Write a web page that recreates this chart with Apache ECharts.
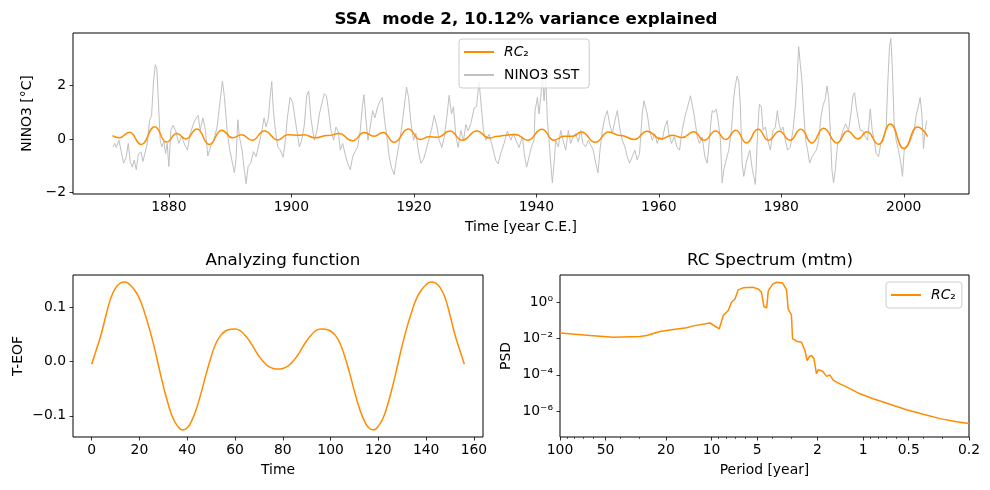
<!DOCTYPE html>
<html>
<head>
<meta charset="utf-8">
<script src="https://cdn.jsdelivr.net/npm/echarts@6/dist/echarts.min.js"></script>
<style>
  html, body { margin: 0; padding: 0; background: #fff; }
  #chart { width: 990px; height: 490px; }
</style>
</head>
<body>
<div id="chart"></div>
<script>
// NINO3 SST anomaly (year, degC)
const sstYears = [
  1870.87,1871.15,1871.42,1871.85,1872.23,1872.61,1873.05,1873.37,1873.70,1874.03,
  1874.35,1874.68,1875.00,1875.44,1875.77,1876.09,1876.47,1876.85,1877.18,1877.50,
  1877.78,1878.05,1878.32,1878.59,1878.86,1879.19,1879.46,1879.73,1880.00,1880.33,
  1880.66,1881.09,1881.63,1882.07,1882.61,1883.05,1883.48,1884.03,1884.46,1884.79,
  1885.11,1885.55,1885.98,1886.36,1886.80,1887.34,1887.88,1888.37,1888.75,1889.08,
  1889.52,1889.90,1890.28,1890.71,1890.98,1891.26,1891.53,1891.96,1892.29,1892.61,
  1892.94,1893.37,1893.81,1894.24,1894.68,1895.11,1895.55,1895.87,1896.26,1896.53,
  1896.80,1897.07,1897.40,1897.78,1898.21,1898.65,1898.97,1899.35,1899.79,1900.22,
  1900.77,1901.31,1901.69,1902.12,1902.50,1902.83,1903.21,1903.76,
  1904.19,1904.58,1904.96,1905.39,1905.72,1906.04,1906.48,1906.91,1907.29,1907.67,
  1908.00,1908.38,1908.81,1909.19,1909.63,1910.01,1910.39,1910.83,1911.26,1911.59,
  1911.86,1912.18,1912.51,1912.89,1913.27,1913.65,1914.03,1914.47,1914.85,1915.23,
  1915.61,1915.99,1916.37,1916.80,1917.13,1917.51,1917.95,1918.43,1918.81,1919.14,
  1919.52,1919.96,1920.34,1920.72,1921.15,1921.59,1922.02,1922.46,1922.89,1923.33,
  1923.71,1924.14,1924.58,1924.96,1925.39,1925.77,1926.15,1926.48,1926.86,1927.24,
  1927.67,1928.11,1928.49,1928.87,1929.30,1929.85,1930.23,1930.66,1930.93,1931.37,
  1931.75,1932.29,1932.84,1933.38,1933.76,1934.20,1934.74,1935.28,1935.83,1936.26,
  1936.70,1937.18,1937.73,1938.11,1938.43,1938.82,1939.20,1939.63,
  1939.80,1940.18,1940.45,1940.72,1941.00,1941.27,1941.54,1941.81,1942.08,1942.35,
  1942.62,1942.90,1943.17,1943.60,1943.98,1944.36,1944.80,1945.23,1945.61,1945.99,
  1946.43,1946.86,1947.24,1947.62,1948.06,1948.49,1948.87,1949.31,1949.69,1950.07,
  1950.40,1950.78,1951.21,1951.59,1951.97,1952.41,1952.84,1953.22,1953.60,1954.04,
  1954.47,1954.85,1955.23,1955.67,1956.10,1956.48,1956.86,1957.30,1957.57,1957.84,
  1958.11,1958.49,1958.93,1959.36,1959.74,1960.12,1960.56,1960.99,1961.37,1961.64,
  1962.08,1962.52,1962.95,1963.39,1963.82,1964.26,1964.69,1965.18,1965.45,1965.83,
  1966.27,1966.65,1967.08,1967.52,1967.90,1968.17,1968.44,1968.71,1969.04,1969.36,
  1969.69,1970.07,1970.34,1970.61,1971.00,1971.43,1971.86,1972.24,1972.52,1972.79,
  1973.06,1973.33,1973.60,1973.88,1974.26,
  1974.85,1975.28,1975.77,1976.15,1976.42,1976.75,1977.02,1977.40,1977.78,1978.22,
  1978.65,1979.03,1979.36,1979.63,1979.96,1980.28,1980.66,1981.04,1981.48,1981.91,
  1982.29,1982.57,1982.84,1983.11,1983.38,1983.65,1983.98,1984.30,1984.63,1985.01,
  1985.39,1985.72,1986.10,1986.48,1986.80,1987.18,1987.46,1987.73,1988.00,1988.27,
  1988.54,1988.82,1989.20,1989.63,1990.07,1990.50,1990.99,1991.37,1991.70,1991.97,
  1992.24,1992.51,1992.89,1993.27,1993.71,1994.09,1994.52,1994.85,1995.17,1995.50,
  1995.88,1996.26,1996.70,1997.13,1997.40,1997.67,1997.89,1998.11,1998.43,1998.76,
  1999.14,1999.52,1999.79,2000.07,2000.50,2000.94,2001.32,2001.70,2002.02,2002.35,
  2002.67,2002.95,2003.22,2003.49,2003.76
];
const sstValues = [
  -0.30,-0.17,-0.32,-0.05,-0.48,-0.91,-0.67,-0.17,-0.85,-1.06,
  -0.79,-1.16,-0.60,-0.48,-0.85,-0.54,-0.17,0.69,0.88,2.17,
  2.79,2.61,1.31,-0.05,-0.30,-0.11,-0.54,-0.17,-1.04,0.32,
  0.51,0.32,-0.17,0.10,-0.23,-0.42,0.20,0.57,0.79,0.88,
  0.32,0.79,0.32,-0.64,-0.30,-0.05,0.45,1.43,2.17,1.56,
  0.32,-0.36,-0.79,-1.28,-0.73,0.72,0.08,-0.42,-1.10,-1.68,
  -1.04,-0.91,-0.48,-0.67,-0.23,0.20,0.79,0.45,0.79,1.56,
  2.15,1.06,0.32,-0.30,-0.42,-0.69,-0.17,0.79,1.56,1.37,
  0.51,-0.30,-0.05,0.51,1.62,1.80,0.75,-0.05,
  0.30,0.94,1.31,1.70,1.62,1.12,0.32,-0.05,0.45,0.26,
  -0.42,-0.17,-0.60,-0.91,-1.16,-0.67,-0.48,-0.30,0.32,1.19,
  1.66,0.75,-0.05,0.45,1.06,0.79,1.16,1.41,1.56,0.69,
  0.08,-0.67,-1.10,-1.34,-0.81,-0.30,0.32,1.19,1.95,1.56,
  0.63,-0.05,0.22,-0.42,-0.91,-0.76,-0.42,-0.02,0.35,0.88,
  0.54,-0.05,-0.32,0.05,0.82,1.64,0.94,1.21,0.10,-0.32,
  0.32,-0.07,0.54,0.30,0.57,1.16,1.21,2.15,1.43,0.32,
  -0.05,0.17,-0.30,-0.81,-0.94,-0.54,-0.17,0.30,-0.05,0.20,
  -0.07,-0.32,0.08,-0.69,-1.06,-0.67,-0.30,-0.05,
  1.06,1.56,0.94,1.56,2.45,1.43,2.30,0.69,-0.05,-0.91,
  -1.65,-0.91,-0.05,-0.30,0.32,-0.05,-0.42,0.32,-0.17,0.08,
  0.20,-0.11,0.32,-0.17,-0.30,-0.05,-0.23,-0.42,-0.91,-1.28,
  -0.42,0.32,0.82,1.06,0.57,0.20,0.69,1.06,0.45,-0.05,
  -0.30,-0.67,-0.91,-0.67,-0.42,-0.79,-0.54,0.94,1.43,1.50,
  0.94,0.32,-0.05,0.20,-0.17,0.08,-0.05,0.45,0.69,0.20,
  -0.17,0.08,-0.30,-0.42,0.32,0.82,1.19,1.62,1.56,0.82,
  0.08,-0.17,0.08,-0.67,-0.91,-0.30,0.45,1.06,1.00,1.12,
  0.69,-0.05,-1.65,-1.16,-0.79,-0.42,0.32,1.56,2.05,2.36,
  2.17,1.19,-0.91,-1.41,-0.91,
  -0.42,-1.16,-1.71,0.32,1.31,1.19,0.32,0.45,-0.05,-0.42,
  0.32,0.45,1.06,0.57,0.32,0.45,-0.05,-0.42,-0.30,0.32,
  1.19,2.17,3.47,2.79,2.17,1.06,-0.05,-0.42,-0.91,-0.67,
  -0.54,-0.42,-0.05,0.82,1.25,1.50,1.99,1.56,0.32,-1.16,
  -1.65,-1.16,-0.17,-0.05,0.32,0.57,0.32,0.94,1.62,1.74,
  1.19,0.82,0.32,0.32,0.08,-0.05,1.12,0.32,-0.05,-0.54,
  -0.67,-0.17,-0.05,0.45,2.17,3.47,3.78,2.79,0.57,-0.05,
  -0.42,-0.91,-1.41,-0.42,-0.30,-0.17,0.08,0.32,0.88,1.19,
  1.56,0.94,-0.36,0.32,0.69
];

// reconstructed component RC2, turning points
const rcYears = [
  1870.8,1871.9,1873.6,1875.5,1877.7,1879.6,1881.3,1882.8,1884.6,1886.6,
  1888.6,1890.4,1891.9,1893.6,1895.6,1897.8,1899.4,1901.3,1902.1,1903.8,
  1905.9,1907.8,1910.0,1911.9,1913.5,1915.0,1916.8,1919.1,1921.0,1922.5,
  1923.9,1925.9,1927.9,1930.3,1932.3,1933.7,1935.0,1936.6,1938.6,1940.9,
  1942.9,1944.5,1945.9,1947.4,1949.6,1951.8,1953.8,1956.0,1958.1,1960.3,
  1962.2,1963.8,1965.7,1967.4,1969.3,1970.9,1972.6,1974.3,1976.2,1977.9,
  1979.7,1981.4,1983.2,1985.0,1986.9,1989.1,1990.8,1992.5,1994.0,1995.9,
  1997.8,2000.0,2002.2,2003.9
];
const rcValues = [
  0.12,0.04,0.25,-0.21,0.46,-0.12,0.20,0.00,0.37,-0.21,
  0.33,0.04,0.16,-0.05,0.30,-0.04,0.16,0.14,0.16,0.04,
  0.125,0.20,-0.07,0.24,0.10,0.24,-0.13,0.37,-0.02,0.08,
  0.06,0.30,-0.05,0.30,0.03,0.10,0.14,0.17,-0.05,0.36,
  -0.05,0.10,0.10,0.26,-0.13,0.26,0.125,-0.02,0.29,0.00,
  0.14,0.05,0.27,-0.05,0.30,-0.02,0.33,-0.15,0.36,-0.05,
  0.29,-0.05,0.36,-0.15,0.40,-0.15,0.30,0.00,0.27,-0.20,
  0.56,-0.36,0.45,0.09
];

// T-EOF (analyzing function)
const teofTime = [0,2,4,6,8,10,12,14,16,18,20,22,24,26,28,30,32,34,36,38,
  40,42,44,46,48,50,52,54,56,58,60,62,64,66,68,70,72,74,76,78,
  80,82,84,86,88,90,92,94,96,98,100,102,104,106,108,110,112,114,116,118,
  120,122,124,126,128,130,132,134,136,138,140,142,144,146,148,150,152,154,156];
const teofValues = [
  -0.005,0.022,0.05,0.085,0.116,0.135,0.144,0.146,0.141,0.131,
  0.116,0.092,0.063,0.030,-0.008,-0.045,-0.078,-0.104,-0.119,-0.126,
  -0.122,-0.108,-0.085,-0.055,-0.022,0.008,0.033,0.048,0.056,0.059,
  0.0596,0.057,0.049,0.038,0.024,0.010,-0.001,-0.009,-0.013,-0.014,
  -0.013,-0.009,-0.001,0.010,0.024,0.038,0.049,0.057,0.0596,0.059,
  0.056,0.048,0.033,0.008,-0.022,-0.055,-0.085,-0.108,-0.122,-0.126,
  -0.119,-0.104,-0.078,-0.045,-0.008,0.030,0.063,0.092,0.116,0.131,
  0.141,0.146,0.144,0.135,0.116,0.085,0.05,0.022,-0.005];

// MTM spectrum of RC2
const specPeriod = [100,63.3,44.5,29.7,26.8,21.9,17.9,14.6,13.2,10.25,
  8.9,8.37,7.76,7.38,7.0,6.67,6.18,5.31,4.92,4.68,
  4.51,4.33,4.22,3.95,3.72,3.40,3.20,3.12,3.04,2.97,
  2.92,2.75,2.55,2.42,2.34,2.26,2.19,2.11,2.03,1.98,
  1.85,1.74,1.66,1.57,1.42,1.22,1.05,0.857,0.665,0.517,
  0.401,0.311,0.242,0.20];
const specPsd = [2.0e-2,1.48e-2,1.2e-2,1.29e-2,1.48e-2,2.45e-2,3.16e-2,3.9e-2,5.0e-2,7.2e-2,
  3.4e-2,0.186,0.35,1.0,1.5,4.8,6.2,6.6,5.4,3.5,
  0.58,0.49,4.4,10,12.6,11.5,4.8,0.43,0.28,0.20,
  9.8e-3,7.2e-3,6.3e-3,2.2e-3,6.2e-4,1.0e-3,1.17e-3,7.8e-4,1.15e-4,1.9e-4,
  1.6e-4,8.3e-5,1.0e-4,5.0e-5,3.2e-5,1.74e-5,9.1e-6,4.9e-6,2.4e-6,1.2e-6,
  6.8e-7,3.9e-7,2.6e-7,2.1e-7];

// tick labels
const yearTicks = [1880,1900,1920,1940,1960,1980,2000];
const sstTicks = [-2,0,2];
const timeTicks = [0,20,40,60,80,100,120,140,160];
const teofTicks = [-0.1,0,0.1];
const periodTicks = [100,50,20,10,5,2,1,0.5,0.2];
const periodMinor = [90,80,70,60,40,30,9,8,7,6,4,3,0.9,0.8,0.7,0.6,0.4,0.3];
const psdExp = [0,-2,-4,-6];

const FONT = 'DejaVu Sans';
const FS = 13.9;
const ORANGE = '#ff8c00';
const GREY = '#c0c0c0';

const minus = s => String(s).replace('-', '\u2212');
const supMap = {'0':'\u2070','1':'\u00b9','2':'\u00b2','3':'\u00b3','4':'\u2074','5':'\u2075','6':'\u2076','7':'\u2077','8':'\u2078','9':'\u2079','-':'\u207b'};
const sup = n => String(n).split('').map(c => supMap[c]).join('');

const tickStyle = { show: true, length: 3.5, lineStyle: { color: '#000', width: 0.8 } };
const labelStyle = { color: '#000', fontFamily: FONT, fontSize: FS };
const nameStyle = { color: '#000', fontFamily: FONT, fontSize: FS };

const chart = echarts.init(document.getElementById('chart'));

const option = {
  animation: false,
  backgroundColor: '#fff',
  textStyle: { fontFamily: FONT },
  title: [
    { text: 'SSA  mode 2, 10.12% variance explained', left: 521, top: 6, textAlign: 'center',
      textStyle: { fontFamily: FONT, fontSize: 16.7, fontWeight: 'bold', color: '#000' } },
    { text: 'Analyzing function', left: 278, top: 247, textAlign: 'center',
      textStyle: { fontFamily: FONT, fontSize: 16.7, fontWeight: 'normal', color: '#000' } },
    { text: 'RC Spectrum (mtm)', left: 765, top: 247, textAlign: 'center',
      textStyle: { fontFamily: FONT, fontSize: 16.7, fontWeight: 'normal', color: '#000' } }
  ],
  legend: [
    {
      data: ['RC2', 'NINO3 SST'], orient: 'vertical', left: 459, top: 39,
      itemWidth: 30, itemHeight: 14, itemGap: 9, padding: [6, 10, 6, 4],
      borderColor: '#cccccc', borderWidth: 1, borderRadius: 3,
      backgroundColor: 'rgba(255,255,255,0.8)',
      itemStyle: { opacity: 0 },
      formatter: n => n === 'RC2' ? '{it|RC}\u2082' : n,
      textStyle: { color: '#000', fontFamily: FONT, fontSize: FS, padding: [0, 0, 0, 5],
        rich: { it: { fontStyle: 'italic', fontFamily: FONT, fontSize: FS, color: '#000' } } }
    },
    {
      data: ['RC2'], orient: 'vertical', left: 886, top: 282,
      itemWidth: 30, itemHeight: 14, padding: [6, 6, 6, 4],
      borderColor: '#cccccc', borderWidth: 1, borderRadius: 3,
      backgroundColor: 'rgba(255,255,255,0.8)',
      itemStyle: { opacity: 0 },
      formatter: n => '{it|RC}\u2082',
      textStyle: { color: '#000', fontFamily: FONT, fontSize: FS, padding: [0, 0, 0, 5],
        rich: { it: { fontStyle: 'italic', fontFamily: FONT, fontSize: FS, color: '#000' } } }
    }
  ],
  grid: [
    { left: 73, top: 33, width: 896, height: 161, show: true, borderColor: '#000', borderWidth: 1, backgroundColor: 'transparent' },
    { left: 73, top: 275, width: 410, height: 162, show: true, borderColor: '#000', borderWidth: 1, backgroundColor: 'transparent' },
    { left: 560, top: 275, width: 409, height: 162, show: true, borderColor: '#000', borderWidth: 1, backgroundColor: 'transparent' }
  ],
  xAxis: [
    { type: 'value', gridIndex: 0, position: 'bottom', min: 1864.35, max: 2010.65,
      axisLine: { show: false, onZero: false }, splitLine: { show: false },
      axisTick: Object.assign({ customValues: yearTicks }, tickStyle),
      axisLabel: Object.assign({ customValues: yearTicks, margin: 6, formatter: v => String(v) }, labelStyle),
      name: 'Time [year C.E.]', nameLocation: 'middle', nameGap: 26, nameTextStyle: nameStyle },
    { type: 'value', gridIndex: 1, position: 'bottom', min: -7.8, max: 163.8,
      axisLine: { show: false, onZero: false }, splitLine: { show: false },
      axisTick: Object.assign({ customValues: timeTicks }, tickStyle),
      axisLabel: Object.assign({ customValues: timeTicks, margin: 6, formatter: v => String(v) }, labelStyle),
      name: 'Time', nameLocation: 'middle', nameGap: 26, nameTextStyle: nameStyle },
    { type: 'log', logBase: 10, gridIndex: 2, position: 'bottom', min: 0.2, max: 100, inverse: true,
      show: false, axisLine: { onZero: false }, splitLine: { show: false } },
    { type: 'value', gridIndex: 2, position: 'bottom', min: Math.log10(0.2), max: 2, inverse: true,
      axisLine: { show: false, onZero: false }, splitLine: { show: false },
      axisTick: Object.assign({ customValues: periodTicks.map(Math.log10) }, tickStyle),
      axisLabel: Object.assign({ customValues: periodTicks.map(Math.log10), margin: 6,
        formatter: v => String(+Math.pow(10, v).toPrecision(3)) }, labelStyle),
      name: 'Period [year]', nameLocation: 'middle', nameGap: 26, nameTextStyle: nameStyle },
    { type: 'value', gridIndex: 2, position: 'bottom', min: Math.log10(0.2), max: 2, inverse: true,
      axisLine: { show: false, onZero: false }, splitLine: { show: false },
      axisTick: { show: true, customValues: periodMinor.map(Math.log10), length: 2, lineStyle: { color: '#000', width: 0.6 } },
      axisLabel: { show: false } }
  ],
  yAxis: [
    { type: 'value', gridIndex: 0, position: 'left', min: -2.07, max: 3.98,
      axisLine: { show: false, onZero: false }, splitLine: { show: false },
      axisTick: Object.assign({ customValues: sstTicks }, tickStyle),
      axisLabel: Object.assign({ customValues: sstTicks, margin: 7, formatter: v => minus(v) }, labelStyle),
      name: 'NINO3 [°C]', nameLocation: 'middle', nameGap: 33, nameTextStyle: nameStyle },
    { type: 'value', gridIndex: 1, position: 'left', min: -0.139, max: 0.159,
      axisLine: { show: false, onZero: false }, splitLine: { show: false },
      axisTick: Object.assign({ customValues: teofTicks }, tickStyle),
      axisLabel: Object.assign({ customValues: teofTicks, margin: 7, formatter: v => minus(v.toFixed(1)) }, labelStyle),
      name: 'T-EOF', nameLocation: 'middle', nameGap: 48, nameTextStyle: nameStyle },
    { type: 'log', logBase: 10, gridIndex: 2, position: 'left', min: Math.pow(10, -7.42), max: Math.pow(10, 1.5),
      show: false, axisLine: { onZero: false }, splitLine: { show: false } },
    { type: 'value', gridIndex: 2, position: 'left', min: -7.42, max: 1.5,
      axisLine: { show: false, onZero: false }, splitLine: { show: false },
      axisTick: Object.assign({ customValues: psdExp }, tickStyle),
      axisLabel: Object.assign({ customValues: psdExp, margin: 7, formatter: v => '10' + sup(v) }, labelStyle),
      name: 'PSD', nameLocation: 'middle', nameGap: 47, nameTextStyle: nameStyle }
  ],
  series: [
    { name: 'NINO3 SST', type: 'line', xAxisIndex: 0, yAxisIndex: 0,
      data: sstYears.map((t, i) => [t, sstValues[i]]),
      symbol: 'none', lineStyle: { color: GREY, width: 1 }, itemStyle: { color: GREY }, z: 2 },
    { name: 'RC2', type: 'line', xAxisIndex: 0, yAxisIndex: 0,
      data: rcYears.map((t, i) => [t, rcValues[i]]),
      smooth: 0.5, smoothMonotone: 'x',
      symbol: 'none', lineStyle: { color: ORANGE, width: 1.5 }, itemStyle: { color: ORANGE }, z: 3 },
    { name: 'T-EOF', type: 'line', xAxisIndex: 1, yAxisIndex: 1,
      data: teofTime.map((t, i) => [t, teofValues[i]]),
      smooth: 0.5,
      symbol: 'none', lineStyle: { color: ORANGE, width: 1.5 }, itemStyle: { color: ORANGE } },
    { name: 'RC2', type: 'line', xAxisIndex: 2, yAxisIndex: 2,
      data: specPeriod.map((p, i) => [p, specPsd[i]]),
      symbol: 'none', lineStyle: { color: ORANGE, width: 1.5 }, itemStyle: { color: ORANGE } }
  ]
};

chart.setOption(option);
</script>
</body>
</html>
